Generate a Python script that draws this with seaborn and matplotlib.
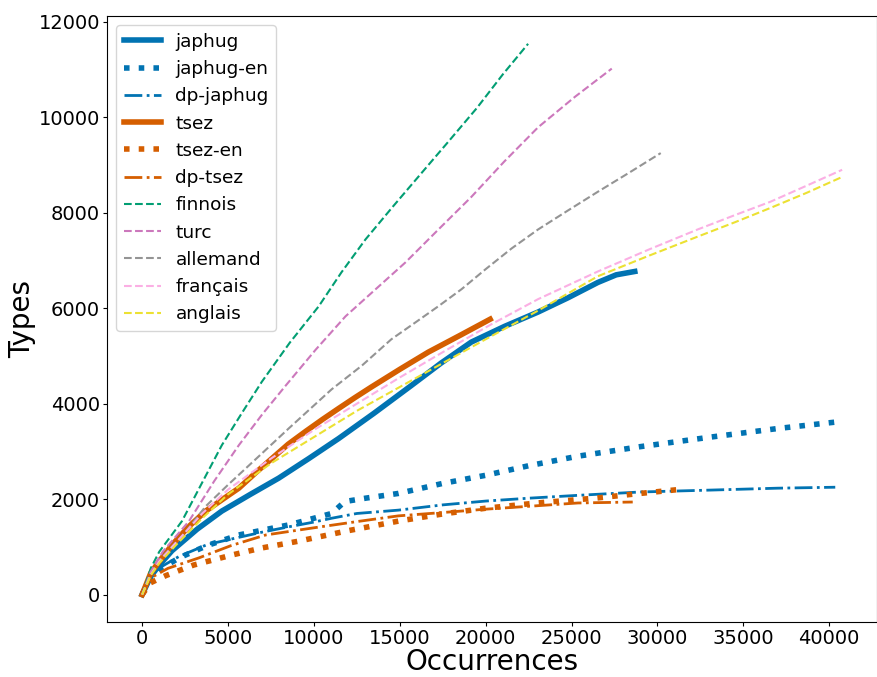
# Type/token growth curves
import matplotlib
matplotlib.use("Agg")
import matplotlib.pyplot as plt
import seaborn as sns

# data (occurrences, types)
japhug_x = [0, 500, 1000, 1740, 3200, 4640, 6300, 7950, 9700, 11440, 13500,
            15670, 17400, 19160, 21100, 23050, 24800, 26530, 27600, 28680]
japhug_y = [0, 380, 620, 920, 1370, 1750, 2100, 2440, 2850, 3270, 3800,
            4380, 4850, 5290, 5620, 5920, 6220, 6540, 6700, 6770]

japhug_en_x = [0, 500, 1000, 2150, 3800, 5630, 7000, 8530, 10000, 11030, 11800, 13000,
               14920, 17500, 20000, 22500, 25370, 29000, 33090, 37000, 40750]
japhug_en_y = [0, 350, 520, 770, 1030, 1250, 1350, 1460, 1600, 1700, 1950, 2020,
               2120, 2330, 2500, 2700, 2900, 3100, 3300, 3480, 3630]

dp_japhug_x = [0, 500, 1000, 2150, 3800, 5630, 7000, 8530, 10000, 11030, 12500,
               14920, 17500, 20000, 22500, 25370, 29000, 33090, 37000, 40350]
dp_japhug_y = [0, 380, 560, 800, 1050, 1200, 1310, 1420, 1520, 1600, 1700,
               1770, 1880, 1960, 2020, 2080, 2150, 2190, 2230, 2250]

tsez_x = [0, 500, 1000, 1740, 2700, 3700, 4700, 5630, 6600, 7550, 8500, 9520,
          10500, 11440, 12400, 13350, 15000, 16660, 18500, 20260]
tsez_y = [0, 450, 700, 1040, 1420, 1750, 2000, 2230, 2550, 2850, 3150, 3420,
          3670, 3900, 4130, 4350, 4720, 5080, 5430, 5770]

tsez_en_x = [0, 500, 1390, 3000, 5230, 7000, 9110, 12000, 14920, 17500, 20000,
             23000, 26350, 29000, 31470]
tsez_en_y = [0, 250, 400, 620, 830, 980, 1120, 1340, 1540, 1690, 1810,
             1920, 2020, 2120, 2210]

dp_tsez_x = [0, 500, 1500, 3310, 5200, 7200, 10000, 12500, 14920, 17500, 20000,
             22500, 25370, 28560]
dp_tsez_y = [0, 350, 550, 770, 1030, 1250, 1400, 1530, 1650, 1720, 1790,
             1850, 1920, 1940]

finnois_x = [0, 500, 1000, 2320, 3500, 4640, 5800, 6970, 8600, 10280, 11600, 13000,
             14600, 16260, 17900, 19500, 21000, 22470]
finnois_y = [0, 550, 900, 1540, 2350, 3130, 3800, 4460, 5280, 6040, 6750, 7440,
             8130, 8830, 9520, 10200, 10900, 11540]

turc_x = [0, 500, 1200, 2730, 4200, 5630, 7000, 8360, 10100, 11840, 13600, 15330,
          17250, 19160, 21100, 23050, 25200, 27340]
turc_y = [0, 480, 900, 1540, 2380, 3130, 3780, 4380, 5130, 5830, 6400, 6960,
          7650, 8330, 9080, 9790, 10430, 11020]

allemand_x = [0, 500, 1200, 2500, 3700, 5000, 6800, 8530, 11030, 12800, 14510, 15900,
              17240, 18600, 19970, 21500, 23050, 24800, 26530, 28400, 30190]
allemand_y = [0, 420, 800, 1300, 1850, 2300, 2900, 3480, 4300, 4800, 5350, 5700,
              6040, 6400, 6810, 7250, 7650, 8050, 8440, 8850, 9250]

francais_x = [0, 500, 1000, 2000, 3500, 5000, 7500, 10000, 12500, 15000, 17600, 20260,
              23050, 26530, 29500, 32340, 34500, 36570, 38700, 40750]
francais_y = [0, 420, 700, 1100, 1700, 2200, 2850, 3450, 4000, 4550, 5100, 5650,
              6190, 6770, 7230, 7650, 7950, 8230, 8570, 8900]

anglais_x = [0, 500, 1000, 2000, 3500, 5000, 7500, 10000, 12500, 15000, 17500, 20000,
             23050, 26530, 29500, 32340, 34500, 36570, 38700, 40750]
anglais_y = [0, 400, 660, 1050, 1600, 2100, 2750, 3300, 3850, 4350, 4850, 5350,
             5950, 6670, 7100, 7500, 7800, 8100, 8420, 8750]

pal = sns.color_palette("colorblind")
blue, orange = pal[0], pal[3]

series = [
    ("japhug", japhug_x, japhug_y, blue, "-", 4),
    ("japhug-en", japhug_en_x, japhug_en_y, blue, ":", 4),
    ("dp-japhug", dp_japhug_x, dp_japhug_y, blue, "-.", 2),
    ("tsez", tsez_x, tsez_y, orange, "-", 4),
    ("tsez-en", tsez_en_x, tsez_en_y, orange, ":", 4),
    ("dp-tsez", dp_tsez_x, dp_tsez_y, orange, "-.", 2),
    ("finnois", finnois_x, finnois_y, pal[2], "--", 1.5),
    ("turc", turc_x, turc_y, pal[4], "--", 1.5),
    ("allemand", allemand_x, allemand_y, pal[7], "--", 1.5),
    ("français", francais_x, francais_y, pal[6], "--", 1.5),
    ("anglais", anglais_x, anglais_y, pal[8], "--", 1.5),
]

fig, ax = plt.subplots(figsize=(8.78, 6.77), dpi=100)

for name, xs, ys, col, ls, lw in series:
    sns.lineplot(x=xs, y=ys, ax=ax, color=col, linestyle=ls, linewidth=lw,
                 label=name, sort=False, estimator=None)

ax.set_xlabel("Occurrences", fontsize=20, labelpad=0)
ax.set_ylabel("Types", fontsize=20, labelpad=2)
ax.tick_params(labelsize=14, length=3, pad=2)
ax.legend(loc="upper left", fontsize=13.3)

fig.subplots_adjust(left=0.122, right=0.999, top=0.976, bottom=0.081)
fig.savefig("out.png", dpi=100)
